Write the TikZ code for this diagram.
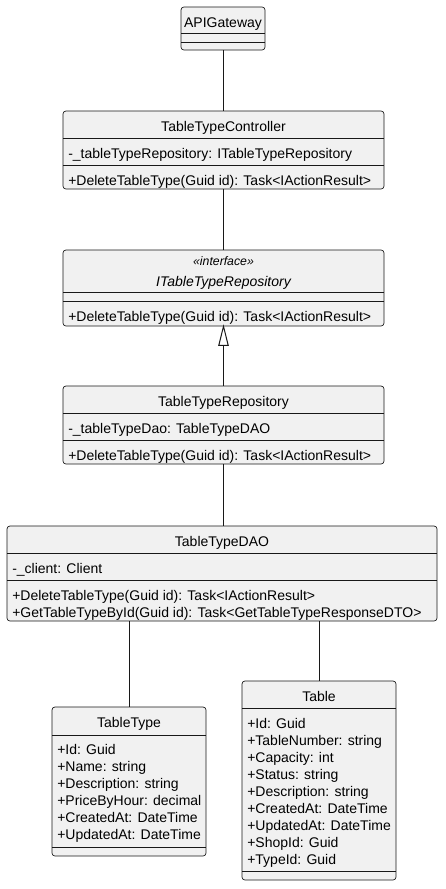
\documentclass[tikz,border=0pt]{standalone}
\usepackage{fontspec}
\setmainfont{Liberation Sans}
\usetikzlibrary{fit}
\definecolor{umlfill}{HTML}{F1F1F1}
\definecolor{umlline}{HTML}{181818}
\newcommand{\fs}{\fontsize{10.5}{12}\selectfont}
\newcommand{\fst}{\fontsize{9.2}{11}\selectfont\itshape}
\tikzset{
  cls/.style={draw=umlline, fill=umlfill, rounded corners=2.2pt, line width=0.5pt, inner sep=0pt},
  sep/.style={draw=umlline, line width=0.5pt},
  ttl/.style={anchor=base, inner sep=0pt, font=\fs},
  mem/.style={anchor=base west, inner sep=0pt, font=\fs},
  link/.style={draw=umlline, line width=0.75pt},
}
\begin{document}
\begin{tikzpicture}[x=0.75pt, y=-0.75pt]
\useasboundingbox (0,0) rectangle (446,889);
% APIGateway
\node[cls, fit={(181,7)(265,50)}] (api) {};
\node[ttl] (apit) at (223,27) {APIGateway};
\draw[sep] (181,33) -- (265,33);
\draw[sep] (181,42) -- (265,42);
% TableTypeController
\node[cls, fit={(63,111)(384,189)}] (ctrl) {};
\node[ttl] (ctrlt) at (223.5,131.5) {TableTypeController};
\draw[sep] (63,138) -- (384,138);
\node[mem] (ctrla) at (68,158.5) {-\_tableTypeRepository: ITableTypeRepository};
\draw[sep] (63,165) -- (384,165);
\node[mem] (ctrlm) at (68,185) {+DeleteTableType(Guid id): Task<IActionResult>};
% ITableTypeRepository
\node[cls, fit={(63,250)(384,326)}] (irepo) {};
\node[ttl, font=\fst] (irepos) at (223.5,265) {«interface»};
\node[ttl, font=\fs\itshape] (irepot) at (223.5,286) {ITableTypeRepository};
\draw[sep] (63,292) -- (384,292);
\draw[sep] (63,301) -- (384,301);
\node[mem] (irepom) at (68,321) {+DeleteTableType(Guid id): Task<IActionResult>};
% TableTypeRepository
\node[cls, fit={(63,386)(384,464)}] (repo) {};
\node[ttl] (repot) at (223.5,406) {TableTypeRepository};
\draw[sep] (63,413) -- (384,413);
\node[mem] (repoa) at (68,433) {-\_tableTypeDao: TableTypeDAO};
\draw[sep] (63,440) -- (384,440);
\node[mem] (repom) at (68,460) {+DeleteTableType(Guid id): Task<IActionResult>};
% TableTypeDAO
\node[cls, fit={(7,526)(437,621)}] (dao) {};
\node[ttl] (daot) at (222,546) {TableTypeDAO};
\draw[sep] (7,553) -- (437,553);
\node[mem] (daoa) at (12,573) {-\_client: Client};
\draw[sep] (7,580) -- (437,580);
\node[mem] (daom1) at (12,600) {+DeleteTableType(Guid id): Task<IActionResult>};
\node[mem] (daom2) at (12,617) {+GetTableTypeById(Guid id): Task<GetTableTypeResponseDTO>};
% TableType
\node[cls, fit={(52,707)(206,856)}] (tt) {};
\node[ttl] (ttt) at (129,727) {TableType};
\draw[sep] (52,735) -- (206,735);
\foreach \t [count=\i from 0] in {+Id: Guid, +Name: string, +Description: string, +PriceByHour: decimal, +CreatedAt: DateTime, +UpdatedAt: DateTime}
  \node[mem] (tta\i) at (57,754+17.1*\i) {\t};
\draw[sep] (52,847) -- (206,847);
% Table
\node[cls, fit={(242,681)(396,880)}] (tab) {};
\node[ttl] (tabt) at (319,701) {Table};
\draw[sep] (242,708) -- (396,708);
\foreach \t [count=\i from 0] in {+Id: Guid, +TableNumber: string, +Capacity: int, +Status: string, +Description: string, +CreatedAt: DateTime, +UpdatedAt: DateTime, +ShopId: Guid, +TypeId: Guid}
  \node[mem] (taba\i) at (247,728+17.1*\i) {\t};
\draw[sep] (242,871) -- (396,871);
% connectors
\draw[link] (api.south) -- (api.south |- ctrl.north);
\draw[link] (ctrl.south) -- (irepo.north);
\coordinate (tri) at (223.5,345);
\draw[link] (repo.north) -- (tri);
\draw[link, fill=white] (irepo.south) -- ++(-4.7,19) -- ++(9.4,0) -- cycle;
\draw[link] (repo.south) -- (repo.south |- dao.north);
\draw[link] (dao.south -| tt.north) -- (tt.north);
\draw[link] (dao.south -| tab.north) -- (tab.north);
\end{tikzpicture}
\end{document}
